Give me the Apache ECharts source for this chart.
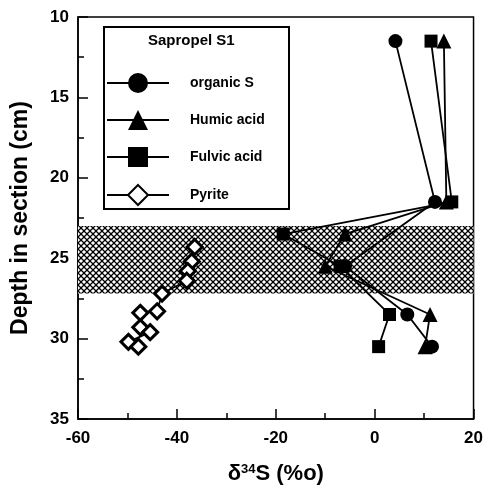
<!DOCTYPE html>
<html>
<head>
<meta charset="utf-8">
<script src="https://cdn.jsdelivr.net/npm/echarts@6/dist/echarts.min.js"></script>
<style>html,body{margin:0;padding:0;background:#fff;}#c{width:486px;height:490px;}</style>
</head>
<body>
<div id="c"></div>
<script>
// ---- data ----
var orgDepth = [11.5, 21.5, 25.5, 28.5, 30.5];
var orgS = [4.2, 12.2, -6.0, 6.6, 11.6];
var humDepth = [11.5, 21.5, 23.5, 25.5, 28.5, 30.5];
var humic = [14.0, 14.5, -6.0, -10.0, 11.2, 10.2];
var fulDepth = [11.5, 21.5, 23.5, 25.5, 28.5, 30.5];
var fulvic = [11.4, 15.6, -18.5, -7.0, 3.0, 0.8];
var pyrDepth = [24.3, 25.2, 25.8, 26.4, 27.2, 28.3, 28.4, 29.3, 29.6, 30.2, 30.5];
var pyrite = [-36.4, -37.0, -37.8, -38.0, -43.0, -44.0, -47.4, -47.4, -45.4, -49.8, -47.8];
var band = [23.0, 27.2];
var xTicks = [-60, -40, -20, 0, 20];
var yTicks = [10, 15, 20, 25, 30, 35];
var seriesNames = ['organic S', 'Humic acid', 'Fulvic acid', 'Pyrite'];

function pairs(xs, ys) { return xs.map(function (v, i) { return [v, ys[i]]; }); }

// hatch pattern
var pc = document.createElement('canvas');
pc.width = 6; pc.height = 6;
var g = pc.getContext('2d');
g.fillStyle = '#000'; g.fillRect(0, 0, 6, 6);
g.fillStyle = '#fff';
function dia(cx, cy, r) { g.beginPath(); g.moveTo(cx, cy - r); g.lineTo(cx + r, cy); g.lineTo(cx, cy + r); g.lineTo(cx - r, cy); g.closePath(); g.fill(); }
dia(0, 0, 2.1); dia(6, 0, 2.1); dia(0, 6, 2.1); dia(6, 6, 2.1); dia(3, 3, 2.1);

var font = '"Liberation Sans", Arial, sans-serif';
var chart = echarts.init(document.getElementById('c'));
var lineSt = { color: '#000', width: 1.8 };
chart.setOption({
  animation: false,
  backgroundColor: '#fff',
  grid: { left: 78, right: 9, top: 17, bottom: 57, show: true, borderColor: '#000', borderWidth: 1.5, backgroundColor: 'transparent' },
  xAxis: {
    type: 'value', min: -60, max: 20, interval: 20,
    axisLine: { onZero: false, lineStyle: { color: '#000', width: 1.5 } },
    axisTick: { inside: true, length: 10, lineStyle: { color: '#000', width: 1.5 } },
    minorTick: { show: true, splitNumber: 2, length: 6, lineStyle: { color: '#000', width: 1.5 } },
    splitLine: { show: false },
    axisLabel: { color: '#000', fontFamily: font, fontWeight: 'bold', fontSize: 17, margin: 11,
      formatter: function (v) { return xTicks.indexOf(v) >= 0 ? String(v) : ''; } },
    name: 'δ{sup|34}S (%o)', nameLocation: 'middle', nameGap: 44,
    nameTextStyle: { color: '#000', fontFamily: font, fontWeight: 'bold', fontSize: 22,
      rich: { sup: { fontSize: 13, fontWeight: 'bold', fontFamily: font, color: '#000', verticalAlign: 'top', padding: [0, 0, 8, 0] } } }
  },
  yAxis: {
    type: 'value', inverse: true, min: 10, max: 35, interval: 5,
    axisLine: { onZero: false, lineStyle: { color: '#000', width: 1.5 } },
    axisTick: { inside: true, length: 10, lineStyle: { color: '#000', width: 1.5 } },
    minorTick: { show: true, splitNumber: 2, length: 6, lineStyle: { color: '#000', width: 1.5 } },
    splitLine: { show: false },
    axisLabel: { color: '#000', fontFamily: font, fontWeight: 'bold', fontSize: 17, margin: 9,
      formatter: function (v) { return yTicks.indexOf(v) >= 0 ? String(v) : ''; } },
    name: 'Depth in section (cm)', nameLocation: 'middle', nameGap: 46, nameRotate: 90,
    nameTextStyle: { color: '#000', fontFamily: font, fontWeight: 'bold', fontSize: 23 }
  },
  legend: {
    orient: 'vertical', left: 106, top: 73, padding: 0, z: 20,
    itemWidth: 62, itemHeight: 25, itemGap: 17,
    data: seriesNames,
    textStyle: { color: '#000', fontFamily: font, fontWeight: 'bold', fontSize: 14, padding: [0, 0, 0, 16] }
  },
  graphic: [
    { type: 'rect', left: 103, top: 26, shape: { width: 185, height: 182 }, style: { fill: '#fff', stroke: '#000', lineWidth: 2 }, z: 0 },
    { type: 'text', left: 148, top: 33, style: { text: 'Sapropel S1', fill: '#000', font: 'bold 15px ' + font }, z: 1 }
  ],
  series: [
    { type: 'line', data: [], z: 1, silent: true,
      markArea: { silent: true, itemStyle: { color: { image: pc, repeat: 'repeat' } }, data: [[{ yAxis: band[0] }, { yAxis: band[1] }]] } },
    { name: seriesNames[0], type: 'line', z: 3, data: pairs(orgS, orgDepth), symbol: 'circle', symbolSize: 14,
      itemStyle: { color: '#000' }, lineStyle: lineSt },
    { name: seriesNames[1], type: 'line', z: 3, data: pairs(humic, humDepth), symbol: 'triangle', symbolSize: 15,
      itemStyle: { color: '#000' }, lineStyle: lineSt },
    { name: seriesNames[2], type: 'line', z: 3, data: pairs(fulvic, fulDepth), symbol: 'rect', symbolSize: 13,
      itemStyle: { color: '#000' }, lineStyle: lineSt },
    { name: seriesNames[3], type: 'line', z: 3, data: pairs(pyrite, pyrDepth), symbol: 'diamond', symbolSize: 15,
      itemStyle: { color: '#fff', borderColor: '#000', borderWidth: 3 }, lineStyle: lineSt }
  ]
});
</script>
</body>
</html>
